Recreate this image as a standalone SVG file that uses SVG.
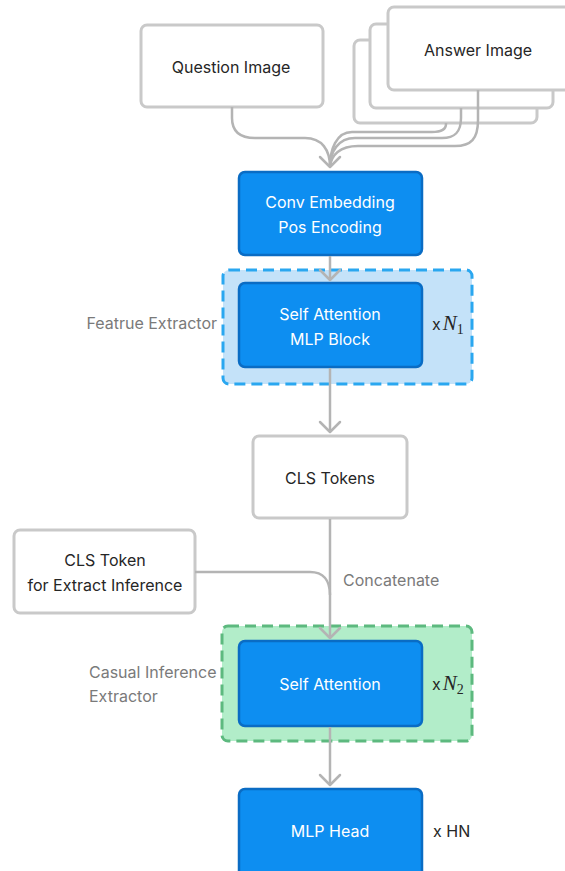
<svg xmlns="http://www.w3.org/2000/svg" width="565" height="871" viewBox="0 0 565 871">
  <style>
    .box { fill: #ffffff; stroke: #c9c9c9; stroke-width: 3; }
    .blue { fill: #0d8ef1; stroke: #0a6cc4; stroke-width: 2.5; }
    .t { font-family: Inter, "Liberation Sans", sans-serif; font-size: 16px; fill: #262626; text-anchor: middle; }
    .w { fill: #ffffff; }
    .g { font-family: Inter, "Liberation Sans", sans-serif; font-size: 16px; fill: #7a7a7a; }
    .m { font-family: Inter, "Liberation Sans", sans-serif; font-size: 16px; fill: #262626; }
    .n { font-family: "Liberation Serif", serif; font-style: italic; font-size: 21px; }
    .sub { font-family: "Liberation Serif", serif; font-size: 14px; }
    .wire { fill: none; stroke: #b4b4b4; stroke-width: 2.5; }
    .head { fill: none; stroke: #b4b4b4; stroke-width: 2.5; stroke-linecap: round; stroke-linejoin: round; }
  </style>
  <rect width="565" height="871" fill="#ffffff"/>

  <!-- inputs -->
  <g id="question-image">
    <rect class="box" x="141" y="25" width="182" height="82" rx="6"/>
    <text class="t" x="231" y="72.5">Question Image</text>
  </g>
  <g id="answer-image">
    <rect class="box" x="354" y="40" width="183" height="83" rx="6"/>
    <rect class="box" x="370" y="24" width="183" height="84" rx="6"/>
    <rect class="box" x="388" y="7" width="182" height="83" rx="6"/>
    <text class="t" x="478" y="55.5">Answer Image</text>
  </g>

  <!-- grouping regions -->
  <g id="feature-extractor">
    <rect x="223" y="270" width="249" height="114" rx="6" fill="#c4e2f9" stroke="#2aa7f0" stroke-width="3" stroke-dasharray="11 6"/>
    <text class="g" x="217" y="328.5" text-anchor="end">Featrue Extractor</text>
    <text class="m" x="432" y="330">x<tspan class="n" dx="2">N</tspan><tspan class="sub" dy="4">1</tspan></text>
  </g>
  <g id="causal-inference-extractor">
    <rect x="222" y="626" width="250" height="115" rx="6" fill="#b2edc9" stroke="#5db97f" stroke-width="3" stroke-dasharray="11 6"/>
    <text class="g" x="89" y="677.5">Casual Inference</text>
    <text class="g" x="89" y="701.5">Extractor</text>
    <text class="m" x="432" y="690">x<tspan class="n" dx="2">N</tspan><tspan class="sub" dy="4">2</tspan></text>
  </g>

  <!-- processing blocks -->
  <g id="conv-embedding">
    <rect class="blue" x="239" y="172" width="183" height="83" rx="6"/>
    <text class="t w" x="330" y="207.5">Conv Embedding</text>
    <text class="t w" x="330" y="232.5">Pos Encoding</text>
  </g>
  <g id="self-attention-mlp">
    <rect class="blue" x="239" y="283" width="183" height="84" rx="6"/>
    <text class="t w" x="330" y="319.5">Self Attention</text>
    <text class="t w" x="330" y="344.5">MLP Block</text>
  </g>
  <g id="cls-tokens">
    <rect class="box" x="253" y="436" width="154" height="82" rx="6"/>
    <text class="t" x="330" y="483.5">CLS Tokens</text>
  </g>
  <g id="cls-token-inference">
    <rect class="box" x="14" y="530" width="181" height="83" rx="6"/>
    <text class="t" x="105" y="565.5">CLS Token</text>
    <text class="t" x="105" y="590.5">for Extract Inference</text>
  </g>
  <g id="self-attention">
    <rect class="blue" x="239" y="641" width="183" height="85" rx="6"/>
    <text class="t w" x="330" y="689.5">Self Attention</text>
  </g>
  <g id="mlp-head">
    <rect class="blue" x="239" y="789" width="183" height="95" rx="6"/>
    <text class="t w" x="330" y="836.5">MLP Head</text>
    <text class="m" x="433" y="836.5">x HN</text>
  </g>

  <!-- connectors -->
  <g id="connectors">
    <path class="wire" d="M232 107 V118 C232 132 240 138 255 138 H305 C322 138 330 150 330 167"/>
    <path class="wire" d="M446 123 V124 C446 130 441 132 432 132 H352 C336 132 330 150 330 167"/>
    <path class="wire" d="M461 108 V118 C461 132 455 138 442 138 H355 C338 138 330 152 330 167"/>
    <path class="wire" d="M478 90 V120 C478 139 471 146 455 146 H358 C340 146 331 155 330 167"/>
    <path class="head" d="M320 157 L330 167 L340 157"/>

    <path class="wire" d="M330 256 V280"/>
    <path class="head" d="M320 270 L330 280 L340 270"/>

    <path class="wire" d="M330 368 V432"/>
    <path class="head" d="M320 422 L330 432 L340 422"/>

    <path class="wire" d="M330 519 V638"/>
    <path class="wire" d="M195 572 H310 C323 572 330 580 330 595"/>
    <path class="head" d="M320 628 L330 638 L340 628"/>
    <text class="g" x="343" y="585.5">Concatenate</text>

    <path class="wire" d="M330 727 V785"/>
    <path class="head" d="M320 775 L330 785 L340 775"/>
  </g>
</svg>
